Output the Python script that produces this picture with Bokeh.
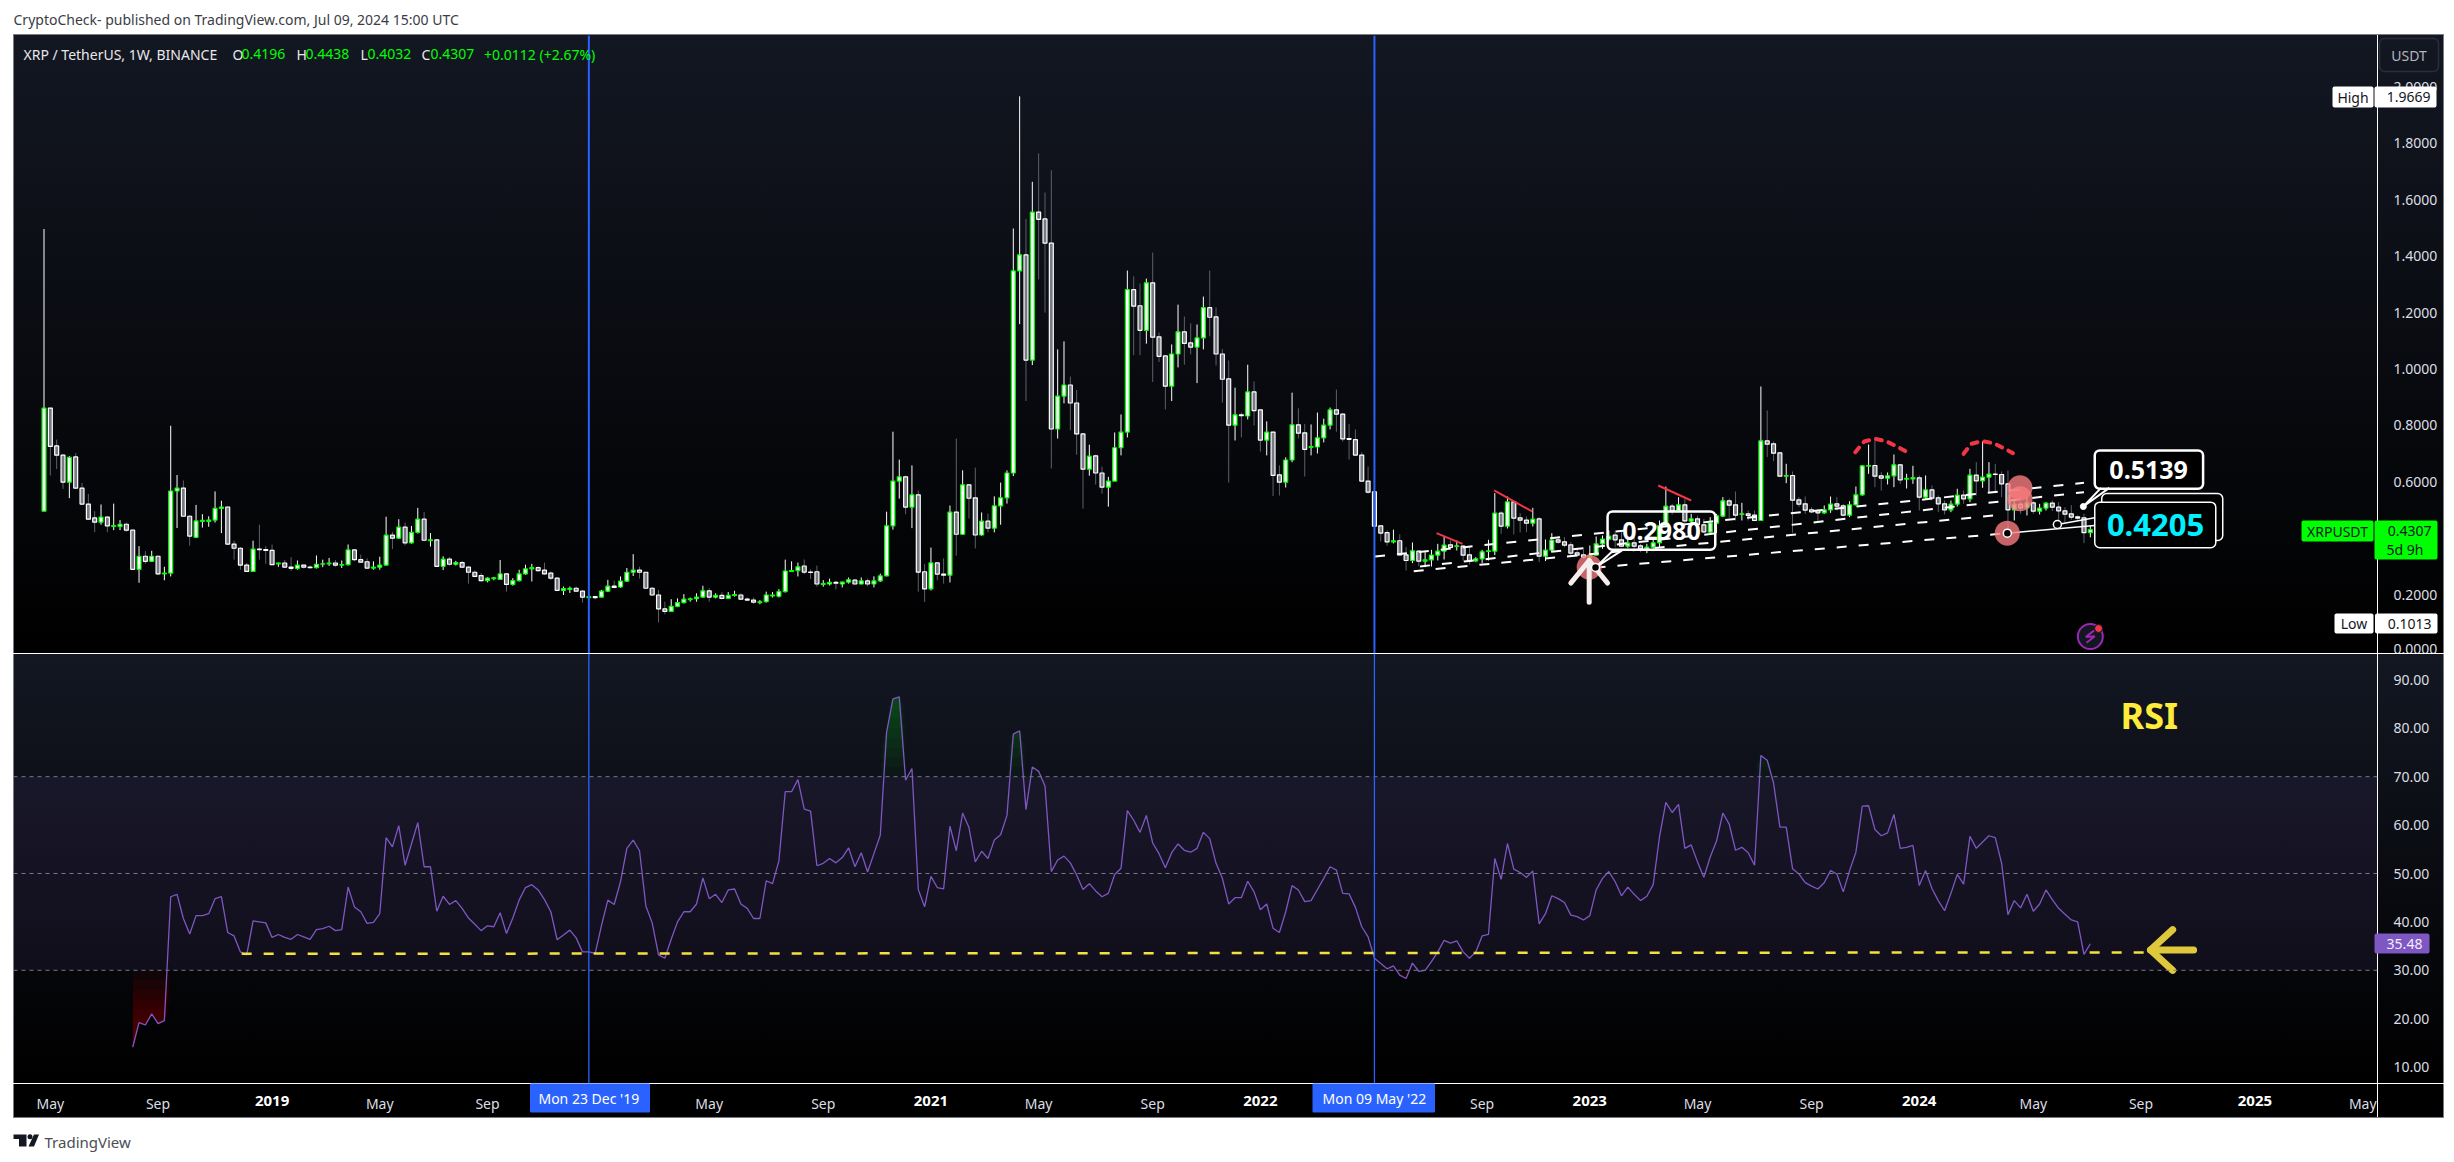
from bokeh.core.properties import value
from bokeh.embed import file_html
from bokeh.layouts import column
from bokeh.models import BoxAnnotation, ColumnDataSource, FixedTicker, Range1d, Spacer, Span
from bokeh.plotting import figure
from bokeh.resources import INLINE

# weekly XRP/USDT candles (week 0 = 30 Apr 2018)
opens = [
    .4957,.8615,.7271,.6943,.5987,.6883,.5778,.5211,.4718,.4569,
    .4748,.4419,.4419,.4494,.4285,.2897,.3359,.3180,.3359,.2732,
    .2762,.5674,.5778,.4778,.4031,.4599,.4599,.4643,.5061,.5106,
    .3792,.3643,.3046,.2822,.3613,.3598,.3568,.3091,.3121,.2976,
    .2931,.3046,.2971,.2956,.3076,.3091,.3121,.3046,.3061,.3583,
    .3240,.3165,.2941,.2971,.3046,.4106,.4001,.4390,.3837,.4210,
    .4673,.3912,.3942,.3001,.3255,.3076,.3136,.2971,.2792,.2673,
    .2494,.2568,.2538,.2732,.2359,.2494,.2732,.2911,.2956,.2867,
    .2762,.2583,.2150,.2180,.2225,.2120,.1896,.1926,.1911,.2120,
    .2299,.2270,.2479,.2792,.2867,.2792,.2225,.1986,.1493,.1404,
    .1583,.1717,.1822,.1852,.1911,.2135,.1911,.1971,.1866,.1971,
    .1986,.1836,.1807,.1717,.1747,.1956,.1941,.2105,.2822,.2852,
    .3014,.2797,.2811,.2362,.2376,.2430,.2376,.2444,.2512,.2376,
    .2484,.2376,.2484,.2662,.4439,.6027,.6176,.5104,.5538,.2811,
    .2200,.3123,.2729,.2688,.4928,.4140,.5891,.5430,.4113,.4602,
    .4357,.5145,.5430,.6312,1.3477,1.4047,1.0315,1.5566,1.5322,1.4467,
    .7872,.9039,.9433,.8795,.7696,.6447,.6922,.6312,.5810,.6027,
    .7207,.7764,1.2812,1.2242,1.1373,1.3056,1.1142,1.0464,.9392,1.0532,
    1.1319,1.0925,1.0776,1.1102,1.2174,1.1848,1.0532,.9650,.8008,.8374,
    .8334,.9188,.8551,.7479,.7764,.6244,.5986,.6773,.8021,.7736,
    .7221,.7234,.7560,.8008,.8551,.8401,.7533,.7492,.6949,.6027,
    .5647,.4439,.4195,.3869,.3909,.3411,.3210,.3541,.3186,.3233,
    .3399,.3541,.3765,.3706,.3718,.3411,.3198,.3269,.3529,.3541,
    .4888,.4427,.5290,.4723,.4640,.4534,.4687,.3363,.3576,.3943,
    .3872,.3765,.3482,.3411,.3328,.3399,.3801,.3966,.4108,.3943,
    .3718,.3836,.3730,.3612,.3682,.3836,.4439,.5136,.4983,.5184,
    .4605,.4687,.4475,.4214,.4534,.4782,.5326,.5184,.4841,.4864,
    .4817,.4628,.7453,.7347,.7028,.6200,.6224,.5361,.5219,.5006,
    .4983,.4900,.5006,.5219,.5148,.4817,.5184,.5538,.6555,.6578,
    .6212,.6129,.6212,.6602,.6094,.6106,.6141,.5455,.5715,.5432,
    .5219,.5006,.5207,.5526,.5396,.6236,.6035,.6165,.6271,.6259,
    .5928,.5006,.5207,.5077,.5255,.4959,.5066,.5243,.5101,.4971,
    .4865,.4758,.4723,.4196,
]
closes = [
    .8615,.7256,.6943,.5987,.6868,.5778,.5211,.4673,.4569,.4748,
    .4434,.4449,.4494,.4285,.2897,.3359,.3180,.3359,.2732,.2762,
    .5674,.5778,.4778,.4076,.4614,.4629,.4643,.5061,.5106,.3792,
    .3643,.3046,.2822,.3613,.3598,.3568,.3061,.3121,.2976,.2931,
    .3046,.2971,.2956,.3076,.3091,.3121,.3046,.3061,.3583,.3240,
    .3150,.2941,.2971,.3046,.4106,.4001,.4390,.3837,.4210,.4673,
    .3927,.3942,.3001,.3255,.3076,.3136,.2971,.2792,.2643,.2494,
    .2583,.2598,.2732,.2359,.2494,.2732,.2911,.2956,.2852,.2732,
    .2583,.2150,.2210,.2225,.2120,.1911,.1926,.1896,.2120,.2299,
    .2255,.2479,.2792,.2867,.2792,.2225,.1986,.1493,.1404,.1583,
    .1717,.1837,.1852,.1911,.2135,.1911,.1971,.1866,.1971,.2001,
    .1836,.1807,.1732,.1747,.1986,.1986,.2105,.2837,.2852,.2986,
    .2797,.2783,.2376,.2389,.2430,.2403,.2444,.2525,.2376,.2484,
    .2376,.2484,.2662,.4439,.6027,.6176,.5104,.5538,.2797,.2200,
    .3123,.2729,.2688,.4928,.4140,.5891,.5416,.4113,.4602,.4357,
    .5145,.5430,.6312,1.3477,1.4047,1.0315,1.5566,1.5308,1.4467,.7872,
    .9039,.9433,.8795,.7696,.6447,.6909,.6312,.5810,.6027,.7207,
    .7764,1.2812,1.2228,1.1373,1.3056,1.1129,1.0450,.9392,1.0532,1.1319,
    1.0912,1.0776,1.1102,1.2174,1.1835,1.0532,.9636,.8008,.8374,.8347,
    .9188,.8524,.7479,.7764,.6230,.5986,.6773,.8021,.7723,.7153,
    .7248,.7560,.8008,.8551,.8401,.7519,.7506,.6949,.6027,.5633,
    .4425,.4181,.3869,.3909,.3408,.3210,.3553,.3186,.3233,.3399,
    .3541,.3754,.3671,.3730,.3399,.3198,.3269,.3517,.3553,.4888,
    .4427,.5290,.4711,.4640,.4534,.4675,.3363,.3576,.3931,.3860,
    .3754,.3470,.3399,.3328,.3399,.3801,.3966,.4073,.3943,.3718,
    .3824,.3718,.3612,.3682,.3836,.4439,.5136,.4983,.5184,.4616,
    .4687,.4487,.4226,.4545,.4794,.5326,.5172,.4817,.4864,.4805,
    .4628,.7453,.7335,.7016,.6200,.6224,.5349,.5207,.4995,.4936,
    .4900,.5006,.5207,.5136,.4817,.5184,.5538,.6567,.6578,.6200,
    .6129,.6212,.6602,.6070,.6118,.6153,.5455,.5715,.5420,.5219,
    .5006,.5207,.5526,.5396,.6236,.6035,.6165,.6271,.6259,.5928,
    .5006,.5207,.5077,.5255,.4959,.5066,.5243,.5101,.4971,.4853,
    .4746,.4711,.4195,.4307,
]
highs = [
    1.4964,.8615,.7495,.6973,.6913,.7017,.5957,.5569,.4957,.5196,
    .4778,.5226,.4643,.4554,.4285,.3718,.3539,.3554,.3389,.2986,
    .7988,.6241,.6047,.4823,.5181,.4852,.4778,.5659,.5330,.5136,
    .3912,.3688,.3121,.3912,.4479,.3718,.3778,.3136,.3225,.3330,
    .3210,.3061,.3031,.3389,.3240,.3300,.3225,.3210,.3778,.3613,
    .3419,.3285,.3180,.3345,.4763,.4225,.4673,.4554,.4434,.5076,
    .4927,.4181,.3972,.3359,.3330,.3195,.3195,.3001,.2852,.2762,
    .2613,.2628,.3225,.2762,.2583,.2882,.3061,.3091,.3001,.3136,
    .2822,.2613,.2285,.2285,.2285,.2150,.2016,.1941,.2165,.2523,
    .2494,.2643,.2941,.3434,.2986,.2807,.2270,.2165,.1747,.1837,
    .1867,.2016,.1896,.2046,.2314,.2225,.2046,.2090,.2090,.2135,
    .2046,.1896,.1896,.1807,.2105,.2090,.2195,.3240,.3180,.3136,
    .3245,.2892,.3028,.2512,.2566,.2484,.2458,.2607,.2553,.2607,
    .2566,.2648,.2743,.4941,.7777,.6786,.6217,.6583,.5687,.3082,
    .3666,.3136,.3285,.5158,.7533,.6407,.5918,.6502,.4914,.4873,
    .5484,.5972,.6407,1.4983,1.9669,1.5322,1.6638,1.7642,1.6258,1.7045,
    1.0695,1.0980,.9731,.9256,.7709,.7316,.6963,.6542,.6176,.7750,
    .8388,1.3490,1.3287,1.3029,1.3205,1.4128,1.1292,1.0491,1.0871,1.2282,
    1.1862,1.1618,1.1577,1.2567,1.3490,1.2187,1.0708,1.0301,.9338,.8456,
    1.0152,.9555,.8564,.8143,.7777,.6583,.6868,.9161,.8605,.8054,
    .8035,.8456,.8238,.8632,.9270,.8429,.8054,.7859,.7044,.6542,
    .5660,.4453,.4276,.4303,.4140,.3682,.3848,.3564,.3505,.3588,
    .3801,.4084,.3919,.3919,.3754,.3682,.3328,.3588,.3943,.5598,
    .4959,.5479,.5314,.4888,.4770,.5077,.4746,.3955,.4179,.4084,
    .4037,.3860,.3659,.3682,.3742,.4061,.4096,.4274,.4274,.4215,
    .4037,.4037,.3801,.3801,.4037,.4628,.5834,.5219,.5456,.5385,
    .4864,.4794,.4687,.4746,.4864,.5456,.5408,.5657,.5255,.4983,
    .4983,.9380,.8529,.7429,.7051,.6638,.6366,.5456,.5479,.5101,
    .5042,.5160,.5479,.5456,.5219,.5314,.5834,.6590,.7323,.7465,
    .6342,.6330,.6969,.6638,.6283,.6567,.6224,.6224,.5869,.5515,
    .5337,.5337,.5751,.5692,.6460,.6697,.7441,.6697,.6638,.6366,
    .6401,.5337,.5692,.5456,.5337,.5219,.5278,.5337,.5278,.5101,
    .5172,.4805,.4864,.4438,
]
lows = [
    .4957,.6226,.6450,.5748,.5420,.5748,.5181,.4643,.4210,.4479,
    .4210,.4285,.4285,.4225,.2882,.2419,.3091,.3165,.2687,.2508,
    .2643,.4360,.4763,.3733,.4001,.4375,.4405,.4554,.4181,.3762,
    .3240,.2882,.2807,.2807,.3240,.3091,.3046,.2986,.2946,.2837,
    .2882,.2926,.2926,.2926,.2971,.3016,.2986,.2941,.3031,.3180,
    .3121,.2911,.2882,.2882,.3031,.3613,.3972,.3748,.3807,.4166,
    .3912,.3703,.2986,.2867,.3031,.3031,.2941,.2389,.2613,.2464,
    .2434,.2508,.2538,.2105,.2314,.2464,.2702,.2464,.2822,.2702,
    .2523,.2120,.1986,.2060,.2090,.1717,.1837,.1837,.1896,.2090,
    .2225,.2240,.2449,.2658,.2568,.2210,.1956,.1013,.1299,.1389,
    .1553,.1687,.1747,.1747,.1896,.1747,.1866,.1836,.1851,.1926,
    .1807,.1777,.1672,.1657,.1717,.1896,.1896,.2075,.2822,.2643,
    .2729,.2553,.2281,.2281,.2322,.2186,.2254,.2389,.2362,.2362,
    .2295,.2254,.2444,.2648,.4303,.5403,.4846,.4357,.2105,.1738,
    .2145,.2512,.2389,.2430,.3380,.4113,.4697,.3638,.4086,.4208,
    .4208,.4479,.5226,.6203,1.1590,.8863,1.0138,1.3178,1.1997,.6474,
    .7533,.8781,.7831,.6963,.5049,.6217,.5905,.5579,.5118,.6013,
    .6936,.7574,1.0491,1.0491,1.0898,.9541,1.0247,.8564,.8863,1.0057,
    1.0152,1.0518,.9500,1.0695,1.1156,1.0125,.8808,.5972,.7465,.7574,
    .8211,.7994,.7072,.6936,.5497,.5511,.5796,.6692,.7533,.6190,
    .6936,.7004,.7397,.7858,.7777,.7424,.6786,.6936,.6013,.5579,
    .4412,.3882,.3733,.3815,.3380,.2855,.3115,.2997,.2973,.2997,
    .3210,.3245,.3588,.3564,.3210,.3068,.3151,.3115,.3210,.3399,
    .4155,.4344,.4132,.4203,.4215,.4415,.3151,.3186,.3505,.3801,
    .3682,.3387,.3328,.3269,.3281,.3387,.3624,.3919,.3682,.3682,
    .3659,.3624,.3505,.3470,.3541,.3671,.4415,.4841,.4935,.4534,
    .4439,.4203,.4179,.4155,.4179,.4746,.4723,.4628,.4628,.4628,
    .4605,.4616,.6874,.6732,.6188,.5952,.4191,.5101,.4864,.4888,
    .4569,.4864,.4900,.4983,.4770,.4746,.5160,.5503,.6283,.5810,
    .5692,.5905,.5810,.5928,.5763,.5928,.4983,.5396,.5337,.4924,
    .4841,.4924,.5124,.5219,.5278,.5515,.5787,.5633,.5597,.5455,
    .4214,.4628,.4864,.4805,.4864,.4841,.4983,.4959,.4415,.4569,
    .4652,.4652,.3825,.4032,
]
# RSI starts 14 weeks in, values run to the last candle
rsi = [
    14.1,19.2,18.7,21.0,19.0,19.6,45.2,45.7,40.7,37.5,41.3,41.3,41.7,44.8,45.2,37.8,37.1,33.8,33.2,40.2,
    40.0,39.8,36.8,37.4,36.8,36.4,37.4,36.9,36.4,38.4,38.6,39.1,38.2,38.4,47.2,43.1,42.1,39.7,39.9,41.7,
    57.4,55.5,59.9,51.7,56.1,60.5,51.4,51.4,42.2,45.3,43.6,44.4,42.8,40.8,39.5,38.2,39.2,39.0,41.9,37.6,
    40.8,44.5,47.1,47.7,46.6,44.6,42.1,36.3,37.3,38.3,36.7,33.8,33.8,33.5,39.3,44.5,43.6,48.3,55.2,56.9,
    54.7,43.3,39.8,33.2,32.5,36.4,40.0,42.1,42.1,43.7,49.1,44.8,45.7,44.0,46.6,46.8,43.7,42.8,40.7,40.7,
    48.5,47.9,52.6,66.9,66.9,69.4,63.3,62.9,51.6,52.1,53.1,52.2,53.3,55.3,51.4,54.3,50.3,54.1,57.9,79.2,
    86.1,86.5,69.3,71.7,46.7,43.1,49.4,47.1,46.8,59.8,54.7,62.5,59.5,52.4,54.6,53.1,56.9,58.0,
    62.0,78.8,79.5,63.2,72.0,71.1,68.1,50.4,52.8,53.6,52.2,49.7,46.7,47.9,46.4,45.2,45.9,49.8,51.1,63.0,
    61.0,58.5,62.0,56.3,54.1,51.2,54.3,56.1,54.8,54.4,55.2,58.5,57.2,52.1,49.0,43.7,45.0,45.0,48.4,46.2,
    42.5,43.7,38.7,37.8,42.1,47.5,46.6,44.2,44.4,46.7,49.0,51.4,50.7,45.9,45.8,43.0,39.0,36.9,32.5,31.4,
    30.3,30.9,29.0,28.3,31.5,29.8,30.0,31.8,33.8,36.2,35.6,36.1,33.8,32.5,33.8,37.1,37.4,53.1,48.8,56.2,
    50.9,50.2,49.2,50.5,39.6,41.7,45.4,44.8,44.0,41.4,41.1,40.4,41.3,46.6,49.0,50.4,48.3,45.4,47.2,45.7,
    44.4,45.3,47.7,57.6,64.7,62.6,64.3,55.2,55.9,52.4,49.2,53.4,56.7,62.5,60.2,54.8,55.4,54.3,51.7,74.4,
    73.4,68.7,59.6,59.6,51.0,49.9,48.1,47.4,46.8,48.1,50.6,49.9,46.2,50.6,54.4,63.9,64.0,59.1,57.8,58.4,
    62.2,55.2,55.4,55.8,47.5,50.6,46.9,44.4,42.3,45.9,49.8,47.8,57.7,55.2,56.5,57.8,57.4,52.1,
    41.5,44.4,42.9,45.7,42.2,43.7,46.6,44.6,42.8,41.6,40.4,40.0,33.3,35.48,
]
price_ticks = [0.0, 0.2, 0.4, 0.6, 0.8, 1.0, 1.2, 1.4, 1.6, 1.8, 2.0]
rsi_ticks = [10, 20, 30, 40, 50, 60, 70, 80, 90]
# candle numbers where the time axis has a label
month_ticks = {1: "May", 18: "Sep", 53: "May", 70: "Sep", 105: "May", 123: "Sep", 157: "May", 175: "Sep",
               227: "Sep", 261: "May", 279: "Sep", 314: "May", 331: "Sep", 366: "May"}
year_ticks = {36: "2019", 140: "2021", 192: "2022", 244: "2023", 296: "2024", 349: "2025"}
marked_weeks = {86: "Mon 23 Dec '19", 210: "Mon 09 May '22"}

FONT = "Noto Sans"
BLUE = "#2962ff"
RED = "#f23645"
GREY = "#787b86"
x_range = Range1d(-4.815, 368.33)

# ---- price pane
p = figure(width=2431, height=653, x_range=x_range, y_range=Range1d(-0.00887, 2.1826), tools="",
           toolbar_location=None, output_backend="svg", y_axis_location="right", x_axis_location=None,
           min_border_left=0, min_border_right=67, min_border_top=35, min_border_bottom=0,
           background_fill_color=None, border_fill_color=None, outline_line_color=None, margin=(0, 0, 0, 13))
p.grid.visible = False
p.styles = {"background": ", ".join([
    f"linear-gradient({GREY},{GREY}) 0 34px/100% 1px no-repeat",
    f"linear-gradient({GREY},{GREY}) 0 35px/1px 618px no-repeat",
    f"linear-gradient({GREY},{GREY}) 2430px 35px/1px 618px no-repeat",
    "linear-gradient(#fff,#fff) 2364px 35px/1px 618px no-repeat",
    "linear-gradient(#fff 0, #fff 35px, #131722 35px, #000 100%)",
])}
p.yaxis.ticker = FixedTicker(ticks=price_ticks)
p.yaxis.formatter.use_scientific = False
p.yaxis.major_label_overrides = {t: f"{t:.4f}" for t in price_ticks}

weeks = list(range(len(opens)))
ups = [c >= o for o, c in zip(opens, closes)]
candles = ColumnDataSource(dict(
    x=weeks, high=highs, low=lows,
    top=[max(o, c) for o, c in zip(opens, closes)],
    bottom=[min(o, c) for o, c in zip(opens, closes)],
    wick=["#ffffff" if u else "#5d606b" for u in ups],
    fill=["#ffffff" if u else GREY for u in ups],
    edge=["#00ff00" if u else "#ffffff" for u in ups],
))
p.segment(x0="x", x1="x", y0="low", y1="high", line_color="wick", line_width=1, source=candles)
p.vbar(x="x", width=0.62, top="top", bottom="bottom", fill_color="fill", line_color="edge", line_width=1.2, source=candles)

# drawings on the chart
p.line([210.1, 322.0], [.3352, .5963], line_color="white", line_width=2, line_dash="10 12")
p.line([217.2, 322.0], [.2997, .5633], line_color="white", line_width=2, line_dash="10 12")
p.line([216.2, 307.8], [.2831, .4805], line_color="white", line_width=2, line_dash="10 12")
p.line([244.9, 309.9], [.2962, .4177], line_color="white", line_width=2, line_dash="10 12")
p.line([309.9, 323.7], [.4179, .4451], line_color="white", line_width=1.5)
p.line([317.8, 323.7], [.4486, .4722], line_color="white", line_width=1.5)

for seg_x, seg_y in [([219.8, 223.9], [.4179, .3801]), ([228.9, 234.9], [.5692, .4947]), ([254.8, 260.0], [.5869, .5337])]:
    p.line(seg_x, seg_y, line_color=RED, line_width=2)
p.line([285.9, 287.3, 289.0, 290.7, 292.4, 293.9], [.7051, .7430, .7524, .7441, .7264, .7075],
       line_color=RED, line_width=4, line_dash="6 7", line_cap="round")
p.line([303.0, 304.2, 305.9, 307.7, 309.3, 310.8], [.6992, .7346, .7441, .7370, .7193, .7015],
       line_color=RED, line_width=4, line_dash="6 7", line_cap="round")

p.scatter([243.9, 309.9, 311.9, 311.9], [.2973, .4177, .5786, .5396], size=25, marker="circle",
          fill_color="#f77c80", fill_alpha=0.8, line_color=None)
p.multi_line([[243.9, 243.9], [241.0, 243.9, 246.8]], [[.1732, .3210], [.2406, .3210, .2406]],
             line_color="#f6eeec", line_width=5, line_cap="round", line_join="round")

# price callouts
p.quad(left=[324.8], right=[343.9], bottom=[.3918], top=[.5585], fill_color="black", line_color="white", line_width=1.5, border_radius=5)
p.quad(left=[323.7], right=[342.8], bottom=[.3660], top=[.5277], fill_color="black", line_color="white", line_width=1.5, border_radius=5)
p.quad(left=[323.7], right=[340.8], bottom=[.5752], top=[.7110], fill_color="black", line_color="white", line_width=2.5, border_radius=5)
p.quad(left=[246.8], right=[263.8], bottom=[.3589], top=[.4947], fill_alpha=0, line_color="white", line_width=2.5, border_radius=5)
p.multi_line([[247.8, 244.9, 249.2], [324.7, 321.9, 326.0]], [[.3588, .2962, .3588], [.5786, .5124, .5786]],
             line_color="white", line_width=2)
p.text([255.3, 332.2], [.4268, .6431], text=["0.2980", "0.5139"], text_color="white", text_font=value(FONT),
       text_font_size="25px", text_font_style="bold", text_align="center", text_baseline="middle")
p.text([333.3], [.4468], text=["0.4205"], text_color="#00f0ff", text_font=value(FONT),
       text_font_size="31px", text_font_style="bold", text_align="center", text_baseline="middle")
p.scatter([244.9, 309.9, 317.8], [.2962, .4179, .4486], size=8, fill_color="black", line_color="white", line_width=1.5)
p.scatter([321.9], [.5124], size=6, fill_color="white", line_color="white")

# lightning badge
p.scatter([323.0], [.0514], size=25, fill_color="#131722", line_color="#9c27b0", line_width=2)
p.line([323.6, 322.3, 323.7, 322.4], [.073, .050, .052, .029], line_color="#9c27b0", line_width=2)
p.scatter([324.3], [.0798], size=8, fill_color=RED, line_color="#131722")

# ---- RSI pane
r = figure(width=2431, height=465, x_range=x_range, y_range=Range1d(6.612, 95.455), tools="",
           toolbar_location=None, output_backend="svg", y_axis_location="right",
           min_border_left=0, min_border_right=67, min_border_top=0, min_border_bottom=35,
           background_fill_color=None, border_fill_color=None, outline_line_color=None, margin=(0, 0, 0, 13))
r.grid.visible = False
r.styles = {"background": ", ".join([
    "linear-gradient(#fff,#fff) 0 0/100% 1px no-repeat",
    "linear-gradient(#fff,#fff) 0 430px/100% 1px no-repeat",
    f"linear-gradient({GREY},{GREY}) 0 464px/100% 1px no-repeat",
    f"linear-gradient({GREY},{GREY}) 0 0/1px 464px no-repeat",
    f"linear-gradient({GREY},{GREY}) 2430px 0/1px 464px no-repeat",
    "linear-gradient(#fff,#fff) 2364px 0/1px 464px no-repeat",
    "linear-gradient(#131722 0, #000 430px, #000 464px, #fff 464px, #fff 100%)",
])}
r.yaxis.ticker = FixedTicker(ticks=rsi_ticks)
r.yaxis.major_label_overrides = {t: f"{t:.2f}" for t in rsi_ticks}
r.xaxis.ticker = FixedTicker(ticks=list(month_ticks))
r.xaxis.major_label_overrides = month_ticks

for ax in (p.yaxis, r.yaxis, r.xaxis):
    ax.axis_line_color = "white"
    ax.major_tick_line_color = None
    ax.minor_tick_line_color = None
    ax.major_label_text_color = "#dcdee4"
    ax.major_label_text_font = FONT
    ax.major_label_text_font_size = "14px"
    ax.major_label_standoff = 10
r.xaxis.major_label_standoff = 4

r.add_layout(BoxAnnotation(bottom=30, top=70, fill_color="#7e57c2", fill_alpha=0.1, line_color=None, level="underlay"))
for lvl in (70, 50, 30):
    r.add_layout(Span(location=lvl, dimension="width", line_color=GREY, line_width=1, line_dash="4 4"))

rsi_x = weeks[len(weeks) - len(rsi):]
# stacked thin fills give the fade above 70 and below 30
for t in range(70, 88, 2):
    r.varea(rsi_x, y1=[t] * len(rsi), y2=[max(v, t) for v in rsi], fill_color="#00ff00", fill_alpha=0.03)
for t in range(30, 12, -2):
    r.varea(rsi_x, y1=[t] * len(rsi), y2=[min(v, t) for v in rsi], fill_color="#ff0000", fill_alpha=0.05)
r.line(rsi_x, rsi, line_color="#7e57c2", line_width=1.3)

r.line([31.2, 331.6], [33.4, 33.7], line_color="#f5e13c", line_width=2.5, line_dash="10 12")
r.multi_line([[332.5, 339.3], [336.0, 332.5, 336.0]], [[34.2, 34.2], [38.4, 34.2, 30.0]],
             line_color="#e0c83c", line_width=7, line_cap="round", line_join="round")
r.text([332.3], [82.6], text=["RSI"], text_color="#ffeb3b", text_font=value(FONT), text_font_size="36px",
       text_font_style="bold", text_align="center", text_baseline="middle")

p.add_layout(Span(location=86, dimension="height", line_color=BLUE, line_width=2))
p.add_layout(Span(location=210, dimension="height", line_color=BLUE, line_width=2))
r.add_layout(Span(location=86, dimension="height", line_color=BLUE, line_width=1.3))
r.add_layout(Span(location=210, dimension="height", line_color=BLUE, line_width=1.3))

# ---- see-through sheet over the whole page for texts outside the panes, in screenshot pixels
o = figure(frame_width=2454, frame_height=1162, x_range=Range1d(0, 2454), y_range=Range1d(1162, 0), tools="", toolbar_location=None,
           output_backend="svg", x_axis_location=None, y_axis_location=None, min_border=0,
           outline_line_color=None, background_fill_color=None, border_fill_color=None)
o.grid.visible = False
o.styles = {"position": "absolute", "top": "0", "left": "0", "z-index": "10", "pointer-events": "none"}


def txt(x, y, text, color, size="14px", style="normal", align="left"):
    o.text([x], [y], text=[text], text_color=color, text_font=value(FONT), text_font_size=size,
           text_font_style=style, text_align=align, text_baseline="middle")


def tag(left, top, right, bottom, fill, line=None, radius=2):
    o.quad(left=[left], right=[right], top=[top], bottom=[bottom], fill_color=fill, line_color=line,
           line_width=1.5, border_radius=radius)


txt(13, 19, "CryptoCheck- published on TradingView.com, Jul 09, 2024 15:00 UTC", "#3a3d45")
txt(23, 53.5, "XRP / TetherUS, 1W, BINANCE", "#e8e8ea")
for lab, num, lx, nx in [("O", "0.4196", 232, 241), ("H", "0.4438", 296, 305), ("L", "0.4032", 360, 367), ("C", "0.4307", 421, 430)]:
    txt(lx, 53.5, lab, "#e8e8ea")
    txt(nx, 53.5, num, "#00ff00")
txt(483.5, 53.5, "+0.0112 (+2.67%)", "#00ff00")

tag(2379, 38, 2438, 71, None, line="#2a2e39", radius=5)
txt(2408.5, 54.5, "USDT", "#b2b5be", align="center")
tag(2332, 86, 2373, 107, "white")
txt(2352.5, 96.5, "High", "#131722", align="center")
tag(2374, 86, 2436, 107, "white")
txt(2430, 96.5, "1.9669", "#131722", align="right")
tag(2301, 520, 2373, 541, "#00ff00")
txt(2337, 530.5, "XRPUSDT", "#131722", align="center")
tag(2374, 520, 2437, 559, "#00ff00")
txt(2431, 530.5, "0.4307", "#131722", align="right")
txt(2386, 548.7, "5d 9h", "#131722")
tag(2334, 613, 2373, 633, "white")
txt(2353.5, 623, "Low", "#131722", align="center")
tag(2374.5, 613, 2437, 633, "white")
txt(2431, 623, "0.1013", "#131722", align="right")
tag(2374, 933, 2429, 953, "#7e57c2")
txt(2404, 943, "35.48", "#f3eefc", align="center")

tag(529.5, 1083, 649.5, 1112, BLUE, radius=1)
tag(1312, 1083, 1434.5, 1112, BLUE, radius=1)
for week, text in marked_weeks.items():
    txt(43.5 + 6.335 * week, 1098, text, "white", align="center")
for week, text in year_ticks.items():
    txt(43.5 + 6.335 * week, 1100.5, text, "white", size="15px", style="bold", align="center")

o.patches([[13, 26, 26, 18.5, 18.5, 13], [33.5, 38.5, 33.5, 28]], [[1134, 1134, 1146, 1146, 1138.5, 1138.5], [1134, 1134, 1146, 1146]],
          fill_color="#131722", line_color=None)
o.scatter([29.5], [1136.3], size=5, fill_color="#131722", line_color=None)
txt(44, 1141, "TradingView", "#4a4d55", size="15px")

page = column(p, r, Spacer(width=2454, height=44), o, spacing=0, width=2454, height=1162)
open("out.html", "w").write(file_html(page, INLINE))
